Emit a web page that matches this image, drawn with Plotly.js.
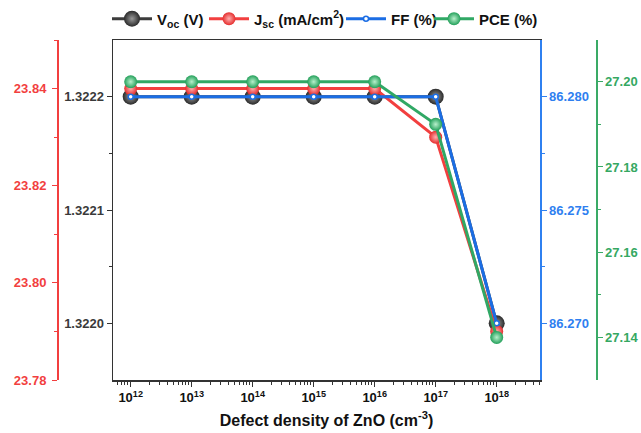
<!DOCTYPE html>
<html><head><meta charset="utf-8">
<script src="https://cdn.plot.ly/plotly-3.0.1.min.js"></script>
<style>body{margin:0;padding:0;background:#fff}#chart{width:641px;height:433px}</style>
</head><body><div id="chart"></div>
<script>
const defectDensity = [1e12, 1e13, 1e14, 1e15, 1e16, 1e17, 1e18];
const xTickText = ['10<sup>12</sup>','10<sup>13</sup>','10<sup>14</sup>','10<sup>15</sup>','10<sup>16</sup>','10<sup>17</sup>','10<sup>18</sup>'];
const voc = [1.3222, 1.3222, 1.3222, 1.3222, 1.3222, 1.3222, 1.3220];
const jsc = [23.840, 23.840, 23.840, 23.840, 23.840, 23.830, 23.790];
const ff  = [86.280, 86.280, 86.280, 86.280, 86.280, 86.280, 86.270];
const pce = [27.200, 27.200, 27.200, 27.200, 27.200, 27.190, 27.140];

const cBlack = '#3c3c3c', cRed = '#f23f3f', cBlue = '#1b6de4', cGreen = '#30a865';
const fam = 'Arial, "Liberation Sans", sans-serif';
const tf = (c) => ({family: fam, size: 13, color: c, weight: 'bold'});

const traces = [
  {x: defectDensity, y: voc, name: 'V<sub>oc</sub> (V)', type: 'scatter', mode: 'lines+markers', yaxis: 'y', legend: 'legend',
   line: {color: cBlack, width: 3}, marker: {size: 16, color: '#2a2a2a', gradient: {type: 'radial', color: '#9a9a9a'}, line: {width: 0}}},
  {x: defectDensity, y: jsc, name: 'J<sub>sc</sub> (mA/cm<sup>2</sup>)', type: 'scatter', mode: 'lines+markers', yaxis: 'y2', legend: 'legend2',
   line: {color: cRed, width: 3}, marker: {size: 13, color: '#e52e2e', gradient: {type: 'radial', color: '#ffb0b0'}, line: {width: 0}}},
  {x: defectDensity, y: ff, name: 'FF (%)', type: 'scatter', mode: 'lines+markers', yaxis: 'y3', legend: 'legend3',
   line: {color: cBlue, width: 3}, marker: {size: 5, color: '#ffffff', line: {color: cBlue, width: 1.5}}},
  {x: defectDensity, y: pce, name: 'PCE (%)', type: 'scatter', mode: 'lines+markers', yaxis: 'y4', legend: 'legend4',
   line: {color: cGreen, width: 3}, marker: {size: 13, color: '#23a05a', gradient: {type: 'radial', color: '#b8f0cc'}, line: {width: 0}}}
];

const legFont = {family: fam, size: 15, color: '#111', weight: 'bold'};
const mkLeg = (px) => ({orientation: 'h', x: px/641, xanchor: 'left', y: 1.062, yanchor: 'middle',
  font: legFont, itemwidth: 40, bgcolor: 'rgba(0,0,0,0)', borderwidth: 0});

const x0 = 113/641, x1 = 540/641;
const layout = {
  width: 641, height: 433,
  margin: {l: 0, r: 0, t: 40, b: 53},
  paper_bgcolor: '#fff', plot_bgcolor: '#fff',
  showlegend: true,
  legend: mkLeg(107), legend2: mkLeg(204), legend3: mkLeg(341), legend4: mkLeg(429),
  xaxis: {type: 'log', domain: [x0, x1], range: [11.71, 18.71], tickvals: defectDensity, ticktext: xTickText,
          ticks: 'outside', ticklen: 5, tickwidth: 1, tickcolor: '#333', showline: true, linecolor: '#333', linewidth: 1.5,
          mirror: true, showgrid: false, zeroline: false, tickfont: tf('#111'),
          minor: {ticks: 'outside', ticklen: 3, tickcolor: '#333', dtick: 'D1', showgrid: false},
          title: {text: 'Defect density of ZnO (cm<sup>-3</sup>)', font: {family: fam, size: 16, color: '#111', weight: 'bold'}, standoff: 10}},
  yaxis: {range: [1.32195, 1.32225], tickvals: [1.3220, 1.3221, 1.3222], ticktext: ['1.3220','1.3221','1.3222'],
          side: 'left', ticks: 'outside', ticklen: 5, tickcolor: '#333', showline: true, linecolor: '#333', linewidth: 1.5,
          showgrid: false, zeroline: false, tickfont: tf('#3a3a3a'),
          minor: {tickvals: [1.32205, 1.32215], ticks: 'outside', ticklen: 3, tickcolor: '#333', showgrid: false}},
  yaxis2: {range: [23.78, 23.85], tickvals: [23.78, 23.80, 23.82, 23.84], ticktext: ['23.78','23.80','23.82','23.84'],
          overlaying: 'y', side: 'left', anchor: 'free', position: 57/641,
          ticks: 'outside', ticklen: 5, tickcolor: cRed, showline: true, linecolor: cRed, linewidth: 1.5,
          showgrid: false, zeroline: false, tickfont: tf(cRed), ticklabelstandoff: 3,
          minor: {tickvals: [23.79, 23.81, 23.83, 23.85], ticks: 'outside', ticklen: 3, tickcolor: cRed, showgrid: false}},
  yaxis3: {range: [86.2675, 86.2825], tickvals: [86.270, 86.275, 86.280], ticktext: ['86.270','86.275','86.280'],
          overlaying: 'y', side: 'right', anchor: 'x',
          ticks: 'outside', ticklen: 5, tickcolor: '#2f80f0', showline: true, linecolor: '#2f80f0', linewidth: 1.5,
          showgrid: false, zeroline: false, tickfont: tf('#2f7ff0'),
          minor: {tickvals: [86.2725, 86.2775], ticks: 'outside', ticklen: 3, tickcolor: '#2f80f0', showgrid: false}},
  yaxis4: {range: [27.13, 27.2098], tickvals: [27.14, 27.16, 27.18, 27.20], ticktext: ['27.14','27.16','27.18','27.20'],
          overlaying: 'y', side: 'right', anchor: 'free', position: 596/641,
          ticks: 'outside', ticklen: 5, tickcolor: '#3aaa66', showline: true, linecolor: '#3aaa66', linewidth: 1.5,
          showgrid: false, zeroline: false, tickfont: tf('#35a862'),
          minor: {tickvals: [27.15, 27.17, 27.19], ticks: 'outside', ticklen: 3, tickcolor: '#3aaa66', showgrid: false}}
};
Plotly.newPlot('chart', traces, layout, {displayModeBar: false, staticPlot: true});
</script></body></html>
